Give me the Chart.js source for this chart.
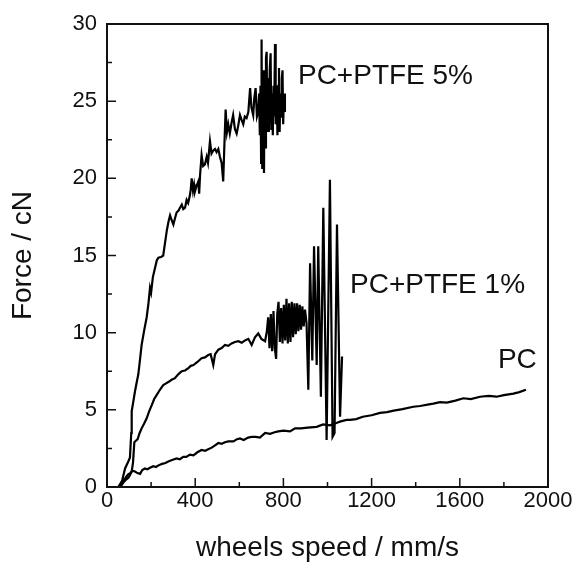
<!DOCTYPE html>
<html>
<head>
<meta charset="utf-8">
<script src="https://cdn.jsdelivr.net/npm/chart.js@4.4.0/dist/chart.umd.min.js"></script>
<style>
  html, body { margin: 0; padding: 0; background: #fff; }
</style>
</head>
<body>
<canvas id="chart" width="577" height="565"></canvas>
<script>
// axis ticks
const xTicks = [0, 400, 800, 1200, 1600, 2000];
const xMinorTicks = [200, 600, 1000, 1400, 1800];
const yTicks = [0, 5, 10, 15, 20, 25, 30];
const yMinorTicks = [2.5, 7.5, 12.5, 17.5, 22.5, 27.5];
const seriesNames = ['PC+PTFE 5%', 'PC+PTFE 1%', 'PC'];

// PC+PTFE 5%
const ptfe5X = [59, 70, 82, 95, 104, 110, 112, 120, 127, 135, 142, 150, 157, 168, 180, 188, 195, 200, 208, 218,
  226, 233, 245, 255, 263, 271, 279, 286, 293, 301, 308, 316, 324, 331, 339, 346, 354, 361, 368, 376,
  380, 384, 390, 395, 399, 406, 414, 418, 422, 429, 436, 444, 452, 458, 467, 474, 482, 490, 497, 505,
  512, 520, 527, 532, 538, 544, 550, 557, 565, 572, 580, 588, 595, 603, 610, 618, 625, 633, 641, 649,
  655, 663, 668, 674, 680, 686, 690, 693, 696, 699, 701, 704, 708, 712, 715, 718, 721, 724, 727, 731,
  734, 738, 742, 745, 748, 752, 755, 758, 762, 765, 769, 773, 777, 780, 783, 786, 790, 793, 796, 799,
  803, 807];
const ptfe5Y = [0, 0.5, 1.2, 1.6, 1.9, 3.5, 4.9, 5.6, 6.2, 6.8, 7.3, 8.3, 9.2, 10.1, 11.0, 11.9, 12.9, 12.6, 13.6, 14.2,
  14.7, 14.85, 14.9, 15.0, 15.8, 16.6, 17.2, 17.6, 17.3, 17.0, 17.4, 17.8, 17.9, 18.1, 18.3, 18.0, 18.1, 18.6, 18.4, 18.9,
  19.3, 20.0, 19.2, 19.6, 19.15, 19.5, 19.8, 19.0, 20.2, 21.5, 20.8, 20.9, 21.4, 21.0, 22.4, 21.6, 21.8, 21.9, 21.7, 21.9,
  21.4, 21.0, 19.8, 22.0, 24.45, 23.0, 23.5, 22.9, 23.6, 24.1, 23.2, 22.9, 23.4, 24.1, 23.8, 23.5, 24.0, 23.9, 24.3, 25.85,
  24.6, 24.1, 25.2, 25.85, 24.0, 24.3, 25.5, 22.8, 26.0, 21.0, 29.0, 20.6, 27.0, 20.35, 26.5, 22.0, 27.8, 28.2, 23.0, 26.5,
  23.0, 27.0, 28.1, 23.2, 25.5, 22.8, 26.0, 24.0, 28.7, 23.5, 26.0, 22.8, 26.0, 27.15, 23.0, 25.5, 24.0, 26.5, 27.0, 23.5,
  25.5, 24.3];

// PC+PTFE 1%
const ptfe1X = [60, 75, 88, 97, 105, 112, 118, 124, 131, 139, 148, 157, 168, 180, 191, 203, 214, 225, 240, 255,
  266, 278, 293, 308, 323, 339, 354, 369, 380, 392, 410, 429, 444, 459, 470, 482, 490, 505, 520, 535,
  550, 565, 580, 596, 611, 626, 641, 656, 671, 686, 700, 717,
  725, 731, 737, 743, 749, 755, 761, 767, 772, 778, 784, 790, 796, 802, 808, 814, 820, 826, 832, 838,
  844, 850, 856, 862, 868, 874, 880, 886, 892, 898, 905,
  913, 921, 931, 939, 951, 958, 970, 981, 996, 1011, 1023, 1032, 1043, 1057, 1066];
const ptfe1Y = [0, 0.3, 0.5, 0.6, 0.8, 1.0, 1.6, 2.9, 3.0, 3.1, 3.5, 3.8, 4.1, 4.45, 4.9, 5.3, 5.7, 5.95, 6.3, 6.6,
  6.7, 6.8, 6.95, 7.05, 7.3, 7.5, 7.55, 7.7, 7.85, 7.9, 8.1, 8.35, 8.4, 8.55, 8.6, 7.9, 8.6, 8.9, 9.0, 9.2,
  9.15, 9.3, 9.4, 9.45, 9.35, 9.5, 9.6, 9.2, 9.7, 9.95, 9.6, 9.45,
  10.1, 11.0, 9.0, 11.2, 8.8, 11.4, 9.0, 8.3, 11.2, 12.0, 9.4, 11.6, 9.3, 11.8, 9.5, 12.2, 9.3, 11.9, 9.4, 12.0,
  9.7, 11.9, 9.9, 11.9, 10.1, 11.8, 10.2, 11.7, 10.4, 11.5, 10.6,
  6.3, 14.5, 8.2, 15.6, 7.9, 15.6, 5.85, 18.1, 3.05, 19.9, 3.25, 3.5, 17.0, 4.55, 8.45];

// PC
const pcX = [51, 60, 70, 82, 95, 105, 115, 127, 138, 150, 160, 172, 183, 195, 210, 222, 233, 250, 265, 278,
  295, 316, 330, 346, 360, 376, 392, 410, 429, 445, 459, 475, 490, 505, 520, 535, 550, 573, 590, 603,
  620, 640, 656, 675, 694, 705, 717, 740, 760, 777, 800, 830, 853, 880, 910, 951, 980, 1011, 1040, 1060,
  1087, 1102, 1130, 1160, 1200, 1238, 1270, 1300, 1340, 1389, 1420, 1460, 1480, 1510, 1541, 1580, 1616, 1650, 1692, 1730,
  1767, 1800, 1843, 1870, 1900];
const pcY = [0, 0.2, 0.4, 0.55, 0.8, 0.9, 1.05, 1.0, 0.9, 0.85, 1.1, 1.2, 1.15, 1.25, 1.35, 1.3, 1.4, 1.5, 1.55, 1.65,
  1.75, 1.85, 1.8, 1.95, 1.95, 2.1, 2.05, 2.25, 2.4, 2.35, 2.45, 2.55, 2.7, 2.85, 2.8, 2.9, 2.95, 2.95, 3.1, 3.15,
  3.05, 3.2, 3.25, 3.25, 3.2, 3.35, 3.5, 3.45, 3.55, 3.6, 3.65, 3.6, 3.8, 3.8, 3.85, 3.9, 4.05, 4.0, 4.15, 4.25,
  4.35, 4.35, 4.4, 4.55, 4.65, 4.8, 4.85, 4.95, 5.05, 5.2, 5.25, 5.35, 5.4, 5.5, 5.47, 5.6, 5.75, 5.7, 5.85, 5.9,
  5.85, 5.95, 6.05, 6.15, 6.3];

function toPoints(xs, ys) {
  return xs.map((x, i) => ({ x: x, y: ys[i] }));
}

const FONT = '"Liberation Sans", Arial, sans-serif';

// where the series names sit, in data units (left edge, baseline)
const labelSpots = [[866, 26.1], [1102, 12.6], [1773, 7.7]];

// frame + inward ticks + curve names
const framePlugin = {
  id: 'frame',
  afterDraw(chart) {
    const c = chart.ctx;
    const a = chart.chartArea;
    const sx = chart.scales.x, sy = chart.scales.y;
    c.save();
    c.strokeStyle = '#111';
    c.lineWidth = 1.5;
    c.beginPath();
    xTicks.forEach(v => { const p = sx.getPixelForValue(v); c.moveTo(p, a.bottom); c.lineTo(p, a.bottom - 9); });
    xMinorTicks.forEach(v => { const p = sx.getPixelForValue(v); c.moveTo(p, a.bottom); c.lineTo(p, a.bottom - 5); });
    yTicks.forEach(v => { const p = sy.getPixelForValue(v); c.moveTo(a.left, p); c.lineTo(a.left + 9, p); });
    yMinorTicks.forEach(v => { const p = sy.getPixelForValue(v); c.moveTo(a.left, p); c.lineTo(a.left + 5, p); });
    c.stroke();
    c.lineWidth = 2;
    c.strokeRect(a.left, a.top, a.right - a.left, a.bottom - a.top);
    c.fillStyle = '#111';
    c.font = '28px ' + FONT;
    c.textAlign = 'left';
    c.textBaseline = 'alphabetic';
    seriesNames.forEach((name, i) => {
      c.fillText(name, sx.getPixelForValue(labelSpots[i][0]), sy.getPixelForValue(labelSpots[i][1]));
    });
    c.restore();
  }
};

const lineStyle = { borderColor: '#000', borderWidth: 2.2, pointRadius: 0, showLine: true, fill: false, tension: 0 };

const ctx = document.getElementById('chart').getContext('2d');
const myChart = new Chart(ctx, {
  type: 'scatter',
  data: {
    datasets: [
      Object.assign({ label: seriesNames[0], data: toPoints(ptfe5X, ptfe5Y) }, lineStyle),
      Object.assign({ label: seriesNames[1], data: toPoints(ptfe1X, ptfe1Y) }, lineStyle),
      Object.assign({ label: seriesNames[2], data: toPoints(pcX, pcY) }, lineStyle)
    ]
  },
  options: {
    responsive: false,
    animation: false,
    layout: { padding: { left: 0, top: 24, right: 29, bottom: 0 } },
    plugins: {
      legend: { display: false },
      tooltip: { enabled: false }
    },
    scales: {
      x: {
        type: 'linear',
        min: 0,
        max: 2000,
        afterBuildTicks: s => { s.ticks = xTicks.map(v => ({ value: v })); },
        afterFit: s => { s.height = 78; },
        grid: { display: false, drawTicks: false },
        border: { display: false },
        ticks: { color: '#111', padding: 1, maxRotation: 0, callback: v => String(v),
          font: { family: FONT, size: 22, lineHeight: 1.2 } },
        title: { display: true, text: 'wheels speed / mm/s', color: '#111',
          font: { family: FONT, size: 28, lineHeight: 1 }, padding: { top: 0, bottom: 3 } }
      },
      y: {
        type: 'linear',
        min: 0,
        max: 30,
        afterBuildTicks: s => { s.ticks = yTicks.map(v => ({ value: v })); },
        afterFit: s => { s.width = 107; },
        grid: { display: false, drawTicks: false },
        border: { display: false },
        ticks: { color: '#111', padding: 10, callback: v => String(v), font: { family: FONT, size: 22 } },
        title: { display: true, text: 'Force / cN', color: '#111',
          font: { family: FONT, size: 28, lineHeight: 1 }, padding: { top: 9, bottom: 0 } }
      }
    }
  },
  plugins: [framePlugin]
});
</script>
</body>
</html>
